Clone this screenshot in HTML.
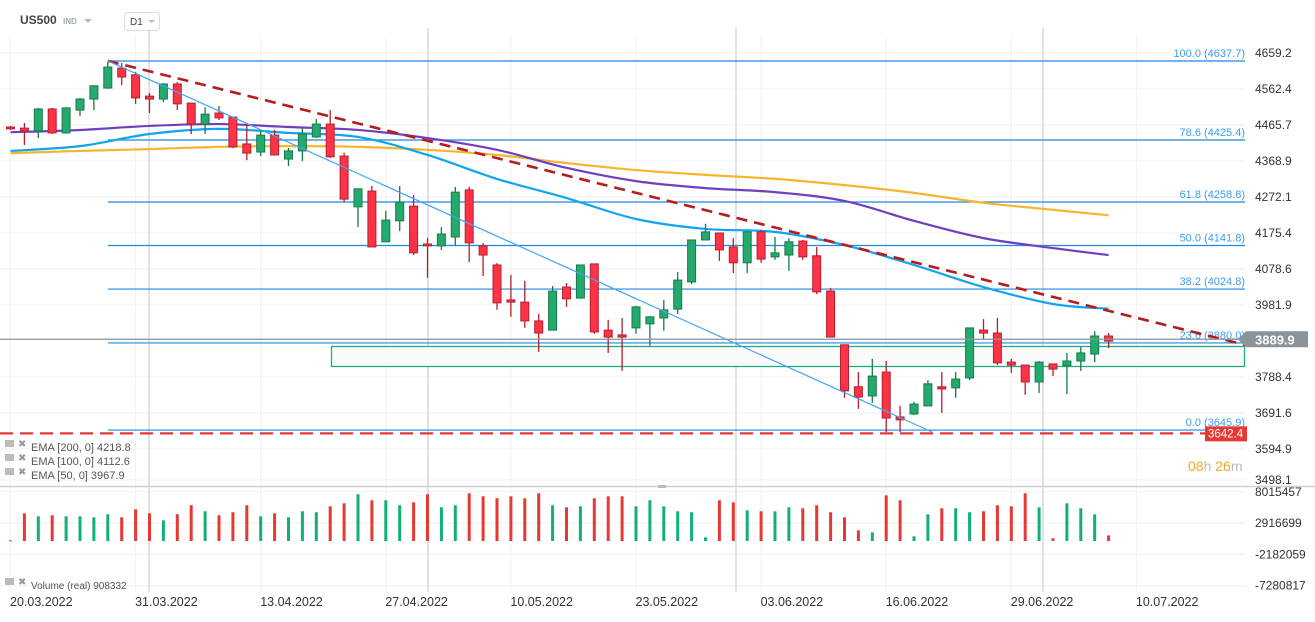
<!DOCTYPE html>
<html><head><meta charset="utf-8">
<style>
html,body{margin:0;padding:0;background:#fff;}
body{width:1315px;height:617px;overflow:hidden;font-family:"Liberation Sans",Arial,sans-serif;}
svg text{font-family:"Liberation Sans",Arial,sans-serif;}
</style></head>
<body>
<svg id="chart" width="1315" height="617" viewBox="0 0 1315 617" xmlns="http://www.w3.org/2000/svg">
  <g id="grid"></g>
  <g id="header">
    <text x="20" y="24" font-size="12" font-weight="bold" fill="#444">US500</text>
    <text x="63" y="24" font-size="8" font-weight="bold" fill="#9aa">IND</text>
    <path d="M84 19 L92 19 L88 23 Z" fill="#bbb"/>
    <rect x="124.5" y="12.5" width="35" height="18" rx="3" fill="#fff" stroke="#ddd"/>
    <text x="130" y="25" font-size="10" fill="#444">D1</text>
    <path d="M148 20 L155 20 L151.5 23 Z" fill="#bbb"/>
  </g>
  <rect x="331.5" y="346.5" width="913" height="20" fill="#fbfbfb" stroke="#1fae7a" stroke-width="1.3"/>
  <g id="fib"></g>
  <g id="emas"></g>
  <g id="candles"></g>
  <g id="overlays"></g>
  <g id="volume"></g>
  <g id="axes"></g>
  <g id="legend">
    <g>
      <rect x="5" y="440" width="9" height="7" fill="#bbb"/><text x="18" y="447" font-size="10" fill="#999">✖</text>
      <text x="31" y="451" font-size="11" fill="#555">EMA [200,  0] 4218.8</text>
    </g>
    <g>
      <rect x="5" y="454" width="9" height="7" fill="#bbb"/><text x="18" y="461" font-size="10" fill="#999">✖</text>
      <text x="31" y="465" font-size="11" fill="#555">EMA [100,  0] 4112.6</text>
    </g>
    <g>
      <rect x="5" y="468" width="9" height="7" fill="#bbb"/><text x="18" y="475" font-size="10" fill="#999">✖</text>
      <text x="31" y="479" font-size="11" fill="#555">EMA [50,  0] 3967.9</text>
    </g>
    <g>
      <rect x="5" y="578" width="9" height="7" fill="#bbb"/><text x="18" y="585" font-size="10" fill="#999">✖</text>
      <text x="31" y="589" font-size="10" fill="#555">Volume  (real)  908332</text>
    </g>
  </g>
  <text x="1188" y="471" font-size="14"><tspan fill="#f5a623">08</tspan><tspan fill="#bbb">h </tspan><tspan fill="#f5a623">26</tspan><tspan fill="#bbb">m</tspan></text>
</svg>
<script>
const NS='http://www.w3.org/2000/svg';
// ---- data ----
const opens =[4458,4455,4447,4507,4442,4504,4534,4564,4618,4600,4542,4534,4575,4523,4466,4496,4485,4412,4390,4436,4371,4393,4431,4466,4379,4241,4284,4146,4203,4243,4140,4135,4159,4287,4135,4083,3988,3982,3931,3906,4023,3993,4086,3906,3893,3912,3923,3939,3963,4037,4151,4170,4132,4089,4173,4105,4110,4148,4108,4012,3866,3752,3727,3792,3670,3678,3700,3752,3749,3776,3906,3898,3819,3811,3765,3814,3809,3822,3841,3890];
const highs =[4461,4469,4510,4510,4512,4537,4571,4635,4632,4608,4551,4577,4580,4524,4512,4515,4486,4469,4450,4450,4401,4455,4480,4504,4388,4290,4298,4230,4298,4273,4156,4186,4295,4295,4143,4088,4056,4040,3950,4026,4034,4083,4086,3934,3939,3972,3944,3988,4064,4151,4195,4170,4156,4173,4178,4159,4156,4151,4132,4021,3866,3792,3828,3822,3700,3711,3770,3792,3792,3912,3936,3939,3828,3811,3822,3814,3844,3860,3903,3898];
const lows  =[4450,4409,4428,4439,4440,4488,4504,4562,4572,4521,4496,4526,4504,4439,4439,4477,4401,4368,4379,4381,4352,4366,4428,4374,4254,4186,4132,4146,4175,4110,4048,4124,4135,4091,4053,3961,3942,3912,3847,3906,3969,3993,3896,3844,3795,3896,3863,3904,3950,4031,4151,4094,4061,4061,4089,4097,4067,4097,4004,3887,3722,3692,3708,3629,3629,3675,3700,3681,3722,3770,3882,3811,3790,3730,3735,3781,3732,3795,3819,3857];
const closes=[4453,4447,4507,4442,4510,4534,4570,4621,4594,4537,4534,4575,4521,4466,4493,4483,4404,4387,4436,4382,4393,4439,4466,4377,4262,4290,4132,4205,4254,4116,4135,4167,4281,4143,4110,3980,3982,3931,3898,4012,3991,4083,3901,3887,3887,3969,3942,3961,4042,4151,4173,4124,4089,4173,4099,4116,4146,4105,4010,3887,3741,3724,3781,3667,3662,3705,3760,3746,3773,3912,3898,3817,3811,3765,3819,3800,3822,3844,3890,3876];
const volumesM=[0.11,4.51,4.02,4.19,4.02,4.02,3.86,4.35,3.86,5.16,4.51,3.37,4.35,5.82,4.84,4.19,4.68,5.82,4.02,4.51,3.86,4.84,4.68,5.65,6.14,7.61,6.63,6.63,5.82,6.30,7.61,5.49,5.82,7.77,7.28,6.96,7.28,6.96,7.77,5.82,5.49,5.65,6.96,7.28,7.28,5.65,6.63,5.65,4.84,4.68,0.60,6.63,6.30,5.00,4.84,4.84,5.49,5.33,5.82,4.68,3.86,1.74,1.42,7.44,6.63,0.77,4.35,5.33,5.33,4.68,4.84,5.82,5.65,7.77,5.49,0.44,6.14,5.33,4.35,0.91];
const emaIdx=[0,5,10,15,20,25,30,35,40,45,50,55,60,65,70,75,79];
const ema50 =[4393,4406,4439,4453,4442,4431,4382,4317,4265,4208,4181,4173,4137,4083,4023,3977,3964];
const ema100=[4444,4450,4461,4466,4458,4450,4428,4396,4347,4311,4292,4281,4257,4203,4156,4129,4110];
const ema200=[4387,4393,4398,4404,4406,4404,4396,4382,4360,4341,4328,4317,4300,4279,4252,4233,4218];
const fibLevels=[100.0,78.6,61.8,50.0,38.2,23.6,0.0];
const fibPrices=[4637.7,4425.4,4258.8,4141.8,4024.8,3880.0,3645.9];
const priceTicks=[4659.2,4562.4,4465.7,4368.9,4272.1,4175.4,4078.6,3981.9,3788.4,3691.6,3594.9,3498.1];
const volTicks=[8015457,2916699,-2182059,-7280817];
const dateLabels=['20.03.2022','31.03.2022','13.04.2022','27.04.2022','10.05.2022','23.05.2022','03.06.2022','16.06.2022','29.06.2022','10.07.2022'];
const dateIdx=[0,9,18,27,36,45,54,63,72,81];
const trendIdx=[7,88.8], trendPrice=[4637.7,3866];
const channelIdx=[7,66.3], channelPrice=[4637.7,3629];
const lastPrice=3889.9, lowMark=3642.4;
// ---- axes ----
const X=i=>10.5+13.9*i;
const Y=p=>53+(4659.2-p)*0.3679;
const Yt=p=>Math.min(480,53+(4659.2-p)*0.3721);
const VY=v=>541-v*6.14/1e6;
const RIGHT=1245;
function el(tag,attrs,parent,txt){const e=document.createElementNS(NS,tag);for(const k in attrs)e.setAttribute(k,attrs[k]);if(txt!==undefined)e.textContent=txt;parent.appendChild(e);return e;}
const grid=document.getElementById('grid');
priceTicks.forEach(p=>{const l=el('line',{x1:0,x2:RIGHT,y1:Yt(p),y2:Yt(p),stroke:'#f0f0f0'},grid);

});
volTicks.forEach(v=>{const l=el('line',{x1:0,x2:RIGHT,y1:VY(v),y2:VY(v),stroke:'#f0f0f0'},grid);

});
dateIdx.forEach(i=>{const gx=X(i)-0.5+(i>0?0.5:0);const l=el('line',{x1:gx,x2:gx,y1:36,y2:592,stroke:'#f0f0f0'},grid);

});
[149,428,736,1043].forEach(gx=>{const l=el('line',{x1:gx,x2:gx,y1:28,y2:592,stroke:'#e2e2e2','stroke-width':2},grid);

});
el('line',{x1:0,x2:1315,y1:486.5,y2:486.5,stroke:'#d0d0d0','stroke-width':1.5},grid);
const axes=document.getElementById('axes');
priceTicks.forEach(p=>{const t=el('text',{x:1255,y:Yt(p)+4,'font-size':12,fill:'#333'},axes,p.toFixed(1));

});
volTicks.forEach(v=>{const t=el('text',{x:1255,y:VY(v)+4,'font-size':12,fill:'#333'},axes,String(v));

});
dateLabels.forEach((d,k)=>{const t=el('text',{x:X(dateIdx[k])-0.5,y:606,'font-size':12.5,fill:'#333'},axes,d);

});
// ---- fib ----
const fib=document.getElementById('fib');
fibPrices.forEach((p,k)=>{const l=el('line',{x1:108,x2:RIGHT,y1:Yt(p),y2:Yt(p),stroke:'#1e88e5','stroke-width':1.2},fib);


const t=el('text',{x:RIGHT,y:Yt(p)-4,'text-anchor':'end','font-size':11,fill:'#3a9ef0'},fib,fibLevels[k].toFixed(1)+' ('+p.toFixed(1)+')');

});
// ---- emas ----
const emas=document.getElementById('emas');
function spline(vals){const pts=emaIdx.map((i,k)=>[X(i),Y(vals[k])]);let d='M'+pts[0][0]+' '+pts[0][1];
for(let k=0;k<pts.length-1;k++){const p0=pts[Math.max(0,k-1)],p1=pts[k],p2=pts[k+1],p3=pts[Math.min(pts.length-1,k+2)];
d+=' C'+(p1[0]+(p2[0]-p0[0])/6)+' '+(p1[1]+(p2[1]-p0[1])/6)+' '+(p2[0]-(p3[0]-p1[0])/6)+' '+(p2[1]-(p3[1]-p1[1])/6)+' '+p2[0]+' '+p2[1];}return d;}
[[ema200,'#f7b52c','ema200-line'],[ema100,'#6f3fbf','ema100-line'],[ema50,'#12a4ef','ema50-line']].forEach(([v,c,n])=>{
const p=el('path',{d:spline(v),fill:'none',stroke:c,'stroke-width':2.2},emas);

});
// ---- candles ----
const cg=document.getElementById('candles');
opens.forEach((o,i)=>{const c=closes[i];const up=c>=o;const fill=up?'#25aa6e':'#ff3347',stroke=up?'#177a4c':'#b3202e';
const g=el('g',{},cg);


const x=X(i);
el('line',{x1:x,x2:x,y1:Y(highs[i]),y2:Y(lows[i]),stroke:stroke,'stroke-width':1.3},g);
const top=Y(Math.max(o,c)),h=Math.max(1.5,Math.abs(Y(o)-Y(c)));
el('rect',{x:x-4,y:top,width:8,height:h,fill:fill,stroke:stroke,'stroke-width':1},g);});
// ---- overlays ----
const ov=document.getElementById('overlays');
const tl=el('line',{x1:X(trendIdx[0]),y1:Y(trendPrice[0]),x2:X(trendIdx[1]),y2:Y(trendPrice[1]),stroke:'#b71c1c','stroke-width':2.6,'stroke-dasharray':'11 7'},ov);


const ch=el('line',{x1:X(channelIdx[0]),y1:Y(channelPrice[0]),x2:X(channelIdx[1]),y2:Y(channelPrice[1]),stroke:'#42a5f5','stroke-width':1.2},ov);


const ly=Yt(lowMark)+2;
const lm=el('line',{x1:0,x2:RIGHT,y1:ly,y2:ly,stroke:'#e53935','stroke-width':2.2,'stroke-dasharray':'13 7'},ov);


const lb=el('rect',{x:1205,y:ly-7,width:42,height:15,fill:'#e53935'},ov);


const lt=el('text',{x:1208,y:ly+4,'font-size':11.5,fill:'#fff'},ov,lowMark.toFixed(1));


const yy=Yt(lastPrice);
const cp=el('line',{x1:0,x2:RIGHT,y1:yy,y2:yy,stroke:'#8a9399','stroke-width':1.2},ov);


const cb=el('path',{d:`M1238 ${yy} L1246 ${yy-8} L1308 ${yy-8} L1308 ${yy+8} L1246 ${yy+8} Z`,fill:'#8a9399'},ov);


const ct=el('text',{x:1255,y:yy+5,'font-size':13,'font-weight':'bold',fill:'#fff'},ov,lastPrice.toFixed(1));


// ---- volume ----
const vg=document.getElementById('volume');
volumesM.forEach((v,i)=>{const up=closes[i]>=opens[i];const top=VY(v*1e6);
const r=el('rect',{x:X(i)-1.5,y:top,width:3,height:Math.max(1,541-top),fill:up?'#12b076':'#e53935'},vg);

});
const vm=el('rect',{x:658,y:485,width:8,height:3,fill:'#bbb'},vg);


</script>
</body></html>
